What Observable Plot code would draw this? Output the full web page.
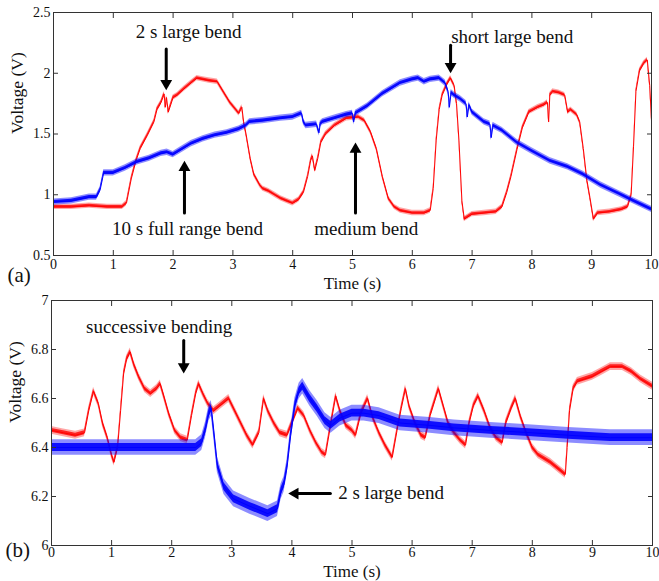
<!DOCTYPE html>
<html>
<head>
<meta charset="utf-8">
<script src="https://cdn.jsdelivr.net/npm/d3@7"></script>
<script src="https://cdn.jsdelivr.net/npm/@observablehq/plot@0.6"></script>
<style>
  html, body { margin: 0; padding: 0; background: #fff; }
  #chart svg { display: block; }
  #chart svg, #chart svg text { font-family: "Liberation Serif", "Times New Roman", serif !important; }
</style>
</head>
<body>
<div id="chart"></div>
<script>
// ---- Panel (a): time (s), voltage (V) ----
const redA = [[0,0.9],[0.3,0.9],[0.6,0.91],[0.9,0.9],[1.15,0.9],[1.22,0.93],[1.3,1.13],[1.38,1.28],[1.45,1.38],[1.57,1.49],[1.68,1.6],[1.73,1.7],[1.8,1.76],[1.85,1.83],[1.87,1.72],[1.89,1.8],[1.92,1.68],[2.0,1.8],[2.07,1.82],[2.18,1.87],[2.3,1.92],[2.4,1.96],[2.5,1.95],[2.6,1.94],[2.74,1.93],[2.85,1.84],[2.95,1.76],[3.05,1.7],[3.1,1.67],[3.15,1.72],[3.18,1.6],[3.22,1.5],[3.29,1.3],[3.35,1.17],[3.45,1.08],[3.5,1.05],[3.6,1.03],[3.7,1.0],[3.8,0.97],[3.9,0.95],[4.0,0.93],[4.1,0.96],[4.18,1.02],[4.25,1.15],[4.3,1.28],[4.33,1.32],[4.37,1.2],[4.42,1.3],[4.47,1.43],[4.55,1.5],[4.7,1.57],[4.9,1.63],[5.1,1.64],[5.2,1.61],[5.3,1.52],[5.4,1.38],[5.5,1.15],[5.6,0.97],[5.7,0.9],[5.8,0.87],[6.0,0.85],[6.2,0.85],[6.3,0.87],[6.35,1.05],[6.4,1.45],[6.45,1.7],[6.5,1.82],[6.58,1.91],[6.64,1.96],[6.7,1.9],[6.74,1.75],[6.78,1.45],[6.83,0.95],[6.87,0.8],[7.0,0.84],[7.2,0.85],[7.4,0.86],[7.5,0.9],[7.58,1.02],[7.65,1.15],[7.75,1.37],[7.84,1.55],[7.95,1.68],[8.1,1.72],[8.2,1.74],[8.26,1.76],[8.28,1.6],[8.3,1.82],[8.35,1.85],[8.45,1.84],[8.55,1.82],[8.6,1.68],[8.65,1.7],[8.75,1.66],[8.8,1.6],[8.86,1.38],[8.92,1.12],[8.97,0.98],[9.03,0.8],[9.1,0.85],[9.3,0.86],[9.5,0.88],[9.6,0.9],[9.66,1.0],[9.7,1.4],[9.74,1.85],[9.8,2.02],[9.87,2.08],[9.93,2.11],[9.97,1.9],[10,1.62]];
const blueA = [[0,0.94],[0.3,0.95],[0.6,0.98],[0.72,0.98],[0.78,1.04],[0.84,1.18],[1.0,1.18],[1.2,1.22],[1.4,1.27],[1.6,1.3],[1.8,1.34],[1.9,1.35],[2.0,1.33],[2.1,1.36],[2.3,1.42],[2.5,1.46],[2.7,1.49],[2.9,1.51],[3.1,1.54],[3.22,1.57],[3.28,1.6],[3.5,1.61],[3.8,1.63],[4.0,1.64],[4.15,1.67],[4.18,1.6],[4.22,1.57],[4.4,1.58],[4.44,1.51],[4.46,1.58],[4.5,1.6],[4.7,1.63],[4.9,1.66],[5.0,1.67],[5.02,1.6],[5.05,1.67],[5.25,1.73],[5.5,1.83],[5.8,1.92],[6.0,1.95],[6.1,1.96],[6.2,1.93],[6.3,1.95],[6.45,1.96],[6.55,1.92],[6.6,1.85],[6.62,1.72],[6.65,1.84],[6.7,1.82],[6.8,1.79],[6.9,1.75],[6.92,1.64],[6.95,1.74],[7.0,1.68],[7.2,1.6],[7.3,1.58],[7.32,1.47],[7.35,1.57],[7.5,1.53],[7.75,1.43],[8.0,1.36],[8.3,1.28],[8.6,1.23],[8.85,1.17],[9.15,1.08],[9.45,1.01],[9.7,0.95],[10,0.88]];
// half-width of the measurement noise on each trace (V)
const redANoise = 0.022;
const blueANoise = 0.026;

// ---- Panel (b) ----
const redB = [[0,6.47],[0.2,6.46],[0.4,6.45],[0.55,6.46],[0.62,6.55],[0.7,6.63],[0.78,6.58],[0.85,6.5],[0.93,6.44],[1.0,6.37],[1.04,6.34],[1.1,6.4],[1.15,6.55],[1.2,6.7],[1.25,6.76],[1.31,6.79],[1.37,6.74],[1.45,6.69],[1.55,6.64],[1.65,6.62],[1.75,6.64],[1.81,6.66],[1.87,6.61],[1.95,6.54],[2.05,6.47],[2.15,6.44],[2.26,6.43],[2.33,6.53],[2.4,6.62],[2.45,6.66],[2.52,6.62],[2.6,6.58],[2.7,6.55],[2.8,6.57],[2.95,6.6],[3.05,6.55],[3.15,6.5],[3.25,6.45],[3.35,6.41],[3.45,6.46],[3.53,6.6],[3.6,6.55],[3.7,6.5],[3.8,6.46],[3.92,6.45],[4.0,6.5],[4.1,6.56],[4.2,6.53],[4.3,6.47],[4.4,6.42],[4.5,6.38],[4.56,6.37],[4.65,6.5],[4.73,6.61],[4.8,6.55],[4.9,6.49],[5.0,6.47],[5.06,6.45],[5.15,6.54],[5.26,6.6],[5.35,6.52],[5.45,6.46],[5.55,6.41],[5.67,6.36],[5.75,6.47],[5.82,6.56],[5.89,6.64],[5.95,6.57],[6.05,6.5],[6.15,6.45],[6.22,6.44],[6.3,6.53],[6.44,6.64],[6.52,6.57],[6.6,6.5],[6.7,6.46],[6.8,6.43],[6.89,6.41],[6.95,6.5],[7.02,6.57],[7.1,6.61],[7.2,6.55],[7.3,6.48],[7.4,6.44],[7.5,6.42],[7.56,6.5],[7.65,6.56],[7.72,6.6],[7.8,6.53],[7.9,6.46],[8.0,6.4],[8.1,6.37],[8.3,6.34],[8.45,6.31],[8.55,6.29],[8.58,6.4],[8.62,6.55],[8.68,6.64],[8.75,6.67],[9.0,6.69],[9.15,6.71],[9.3,6.73],[9.5,6.73],[9.65,6.71],[9.8,6.68],[10,6.65]];
const blueB = [[0,6.4],[0.5,6.4],[1.0,6.4],[1.5,6.4],[2.0,6.4],[2.4,6.4],[2.5,6.42],[2.56,6.47],[2.62,6.54],[2.66,6.56],[2.7,6.47],[2.76,6.33],[2.87,6.24],[3.03,6.19],[3.3,6.16],[3.6,6.13],[3.76,6.15],[3.82,6.22],[3.87,6.25],[3.92,6.32],[3.98,6.45],[4.05,6.57],[4.12,6.63],[4.18,6.65],[4.3,6.6],[4.42,6.56],[4.55,6.51],[4.65,6.49],[4.8,6.52],[5.0,6.54],[5.2,6.54],[5.45,6.53],[5.8,6.5],[6.3,6.49],[6.7,6.48],[7.3,6.47],[8.0,6.46],[8.6,6.45],[9.3,6.44],[10,6.44]];
const redBNoise = 0.016;
const blueBNoise = 0.032;

// ---- Axis ticks ----
const timeTicks = [0, 1, 2, 3, 4, 5, 6, 7, 8, 9, 10];
const voltTicksA = [0.5, 1, 1.5, 2, 2.5];
const voltTicksB = [6, 6.2, 6.4, 6.6, 6.8, 7];

// ---- Annotations (time, voltage) ----
const notesA = [
  {t: 2.26, v: 2.29, label: "2 s large bend"},
  {t: 2.24, v: 0.665, label: "10 s full range bend"},
  {t: 5.23, v: 0.665, label: "medium bend"},
  {t: 7.67, v: 2.25, label: "short large bend"}
];
const arrowsA = [
  {t1: 1.885, v1: 2.2, t2: 1.885, v2: 1.86},
  {t1: 2.19, v1: 0.85, t2: 2.19, v2: 1.28},
  {t1: 5.05, v1: 0.85, t2: 5.05, v2: 1.43},
  {t1: 6.64, v1: 2.23, t2: 6.64, v2: 2.0}
];
const notesB = [
  {t: 1.79, v: 6.869, label: "successive bending"},
  {t: 5.65, v: 6.188, label: "2 s large bend"}
];
const arrowsB = [
  {t1: 2.2, v1: 6.837, t2: 2.2, v2: 6.702},
  {t1: 4.64, v1: 6.212, t2: 3.94, v2: 6.212}
];

const toRows = (pairs) => pairs.map(([t, v]) => ({t, v}));

function arrowMarks(arrows) {
  const down = arrows.filter(a => a.t1 === a.t2 && a.v2 < a.v1);
  const up = arrows.filter(a => a.t1 === a.t2 && a.v2 > a.v1);
  const left = arrows.filter(a => a.t1 !== a.t2 && a.t2 < a.t1);
  const head = {x: "t2", y: "v2", symbol: "triangle", r: 4.4, fill: "black", stroke: "none"};
  return [
    Plot.arrow(arrows, {x1: "t1", y1: "v1", x2: "t2", y2: "v2", headLength: 0, insetEnd: 7, stroke: "black", strokeWidth: 3}),
    Plot.dot(down, {...head, rotate: 180, dy: -6.8}),
    Plot.dot(up, {...head, rotate: 0, dy: 6.8}),
    Plot.dot(left, {...head, rotate: -90, dx: 6.8})
  ];
}

// a noisy trace: faint outer envelope, denser inner core, thin centre line
function trace(rows, noise, color, outerOpacity, innerOpacity) {
  return [
    Plot.areaY(rows, {x: "t", y1: d => d.v - noise, y2: d => d.v + noise, fill: color, fillOpacity: outerOpacity}),
    Plot.areaY(rows, {x: "t", y1: d => d.v - noise / 2, y2: d => d.v + noise / 2, fill: color, fillOpacity: innerOpacity}),
    Plot.lineY(rows, {x: "t", y: "v", stroke: color, strokeWidth: 1})
  ];
}

function panel(cfg) {
  const red = toRows(cfg.red), blue = toRows(cfg.blue);
  const ink = "#333";
  return Plot.plot({
    width: 659,
    height: cfg.height,
    marginLeft: cfg.marginLeft,
    marginRight: cfg.marginRight,
    marginTop: cfg.marginTop,
    marginBottom: cfg.marginBottom,
    style: {fontFamily: "Liberation Serif", fontSize: "14px", color: "#111", background: "white", overflow: "visible"},
    x: {domain: [0, 10], label: null},
    y: {domain: cfg.yDomain, label: null},
    marks: [
      ...trace(red, cfg.redNoise, "#ff0000", 0.35, 0.8),
      ...trace(blue, cfg.blueNoise, "#0000ff", 0.45, 0.9),
      // box with inward ticks on every side
      Plot.frame({stroke: ink}),
      Plot.axisX(timeTicks, {anchor: "bottom", tickSize: -5, tickPadding: cfg.xPad, stroke: ink, label: null}),
      Plot.axisX(timeTicks, {anchor: "top", tickSize: -5, tickFormat: () => "", stroke: ink, label: null}),
      Plot.axisY(cfg.yTicks, {anchor: "left", tickSize: -5, tickPadding: 8, tickFormat: d => String(d), stroke: ink, label: null}),
      Plot.axisY(cfg.yTicks, {anchor: "right", tickSize: -5, tickFormat: () => "", stroke: ink, label: null}),
      // axis titles and panel tag
      Plot.text(["Time (s)"], {frameAnchor: "bottom", dy: cfg.timeDy, lineAnchor: "bottom", fontSize: 17}),
      Plot.text(["Voltage (V)"], {frameAnchor: "left", dx: -36, rotate: -90, lineAnchor: "middle", fontSize: 17.5}),
      Plot.text([cfg.tag], {frameAnchor: "bottom-left", dx: cfg.tagDx, dy: cfg.tagDy, textAnchor: "start", lineAnchor: "bottom", fontSize: 21}),
      // annotations
      Plot.text(cfg.notes, {x: "t", y: "v", text: "label", textAnchor: "middle", lineAnchor: "bottom", fontSize: 19, fill: "#111"}),
      ...arrowMarks(cfg.arrows)
    ]
  });
}

const chart = document.getElementById("chart");
chart.append(panel({
  red: redA, blue: blueA, redNoise: redANoise, blueNoise: blueANoise,
  yDomain: [0.5, 2.5], yTicks: voltTicksA, notes: notesA, arrows: arrowsA, tag: "(a)",
  height: 290, marginLeft: 53, marginRight: 8, marginTop: 12, marginBottom: 35,
  xPad: 9, timeDy: 33, tagDx: -46, tagDy: 26
}));
chart.append(panel({
  red: redB, blue: blueB, redNoise: redBNoise, blueNoise: blueBNoise,
  yDomain: [6, 7], yTicks: voltTicksB, notes: notesB, arrows: arrowsB, tag: "(b)",
  height: 291, marginLeft: 51, marginRight: 7, marginTop: 10, marginBottom: 36,
  xPad: 6.5, timeDy: 31, tagDx: -46, tagDy: 11
}));
</script>
</body>
</html>
